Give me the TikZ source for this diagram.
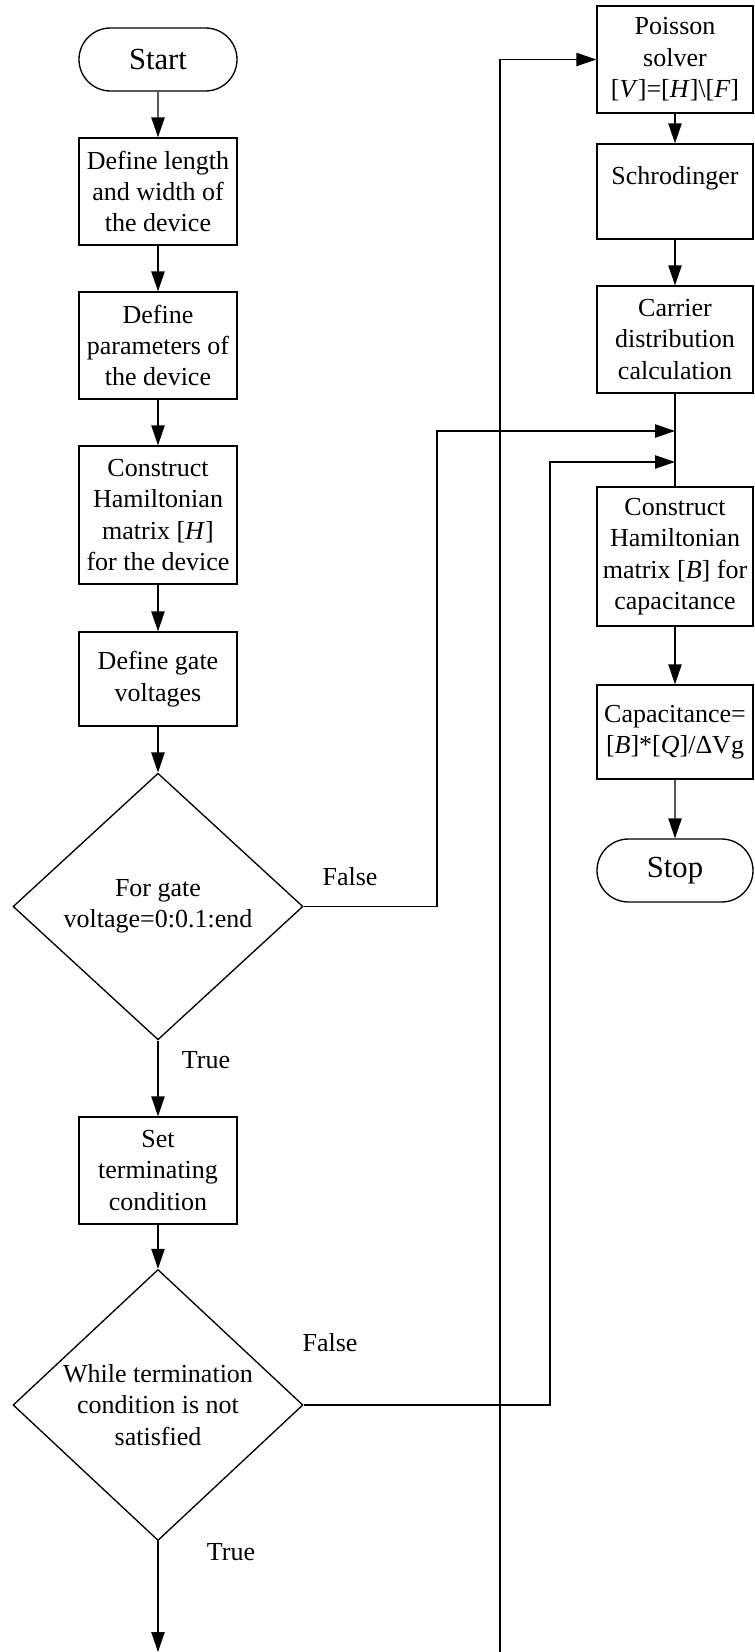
\documentclass[tikz,border=0pt]{standalone}
\usepackage{fontspec}
\setmainfont{Liberation Serif}
\usetikzlibrary{shapes.misc}
\usetikzlibrary{shapes.geometric}
\usetikzlibrary{arrows.meta}

\begin{document}
\begin{tikzpicture}[x=0.75pt,y=-0.75pt,line width=1pt,
  every node/.style={font=\fontsize{19.5}{23.6}\selectfont},
  box/.style={draw,rectangle,line width=1pt,align=center,inner sep=0pt,minimum width=118.5pt},
  rbox/.style={box,minimum width=117pt},
  term/.style={draw,rounded rectangle,line width=1pt,inner sep=0pt,minimum height=47.25pt,font=\fontsize{23}{27}\selectfont},
  decision/.style={draw,diamond,line width=1pt,align=center,inner sep=0pt,minimum width=217.5pt,minimum height=200pt},
  arr/.style={-{Triangle[length=15pt,width=10pt]}},
  lbl/.style={inner sep=0pt}]
\useasboundingbox (0,0) rectangle (754,1652);

% left column
\node[term,minimum width=118.5pt] (start) at (158,59.5) {Start};
\node[box,minimum height=80.25pt] (dim) at (158,191.5) {Define length\\and width of\\the device};
\node[box,minimum height=80.25pt] (par) at (158,345.5) {Define\\parameters of\\the device};
\node[box,minimum height=103.5pt] (ham) at (158,515) {Construct\\Hamiltonian\\matrix [\textit{H}]\\for the device};
\node[box,minimum height=70.5pt] (gate) at (158,679) {Define gate\\voltages};
\node[decision] (forv) at (158,906.5) {For gate\\voltage=0:0.1:end};
\node[box,minimum height=80.25pt] (setc) at (158,1170.5) {Set\\terminating\\condition};
\node[decision] (whl) at (158,1405) {While termination\\condition is not\\satisfied};
\coordinate (endw) at (158,1652);

% right column
\node[rbox,minimum height=80.25pt] (pois) at (675,59.5) {Poisson\\solver\\{}[\textit{V}]=[\textit{H}]\textbackslash[\textit{F}]};
\node[rbox,minimum height=71.25pt] (schr) at (675,191.5) {Schrodinger\\~};
\node[rbox,minimum height=80.25pt] (carr) at (675,339.5) {Carrier\\distribution\\calculation};
\node[rbox,minimum height=104.25pt] (hamb) at (675,556.5) {Construct\\Hamiltonian\\matrix [\textit{B}] for\\capacitance};
\node[rbox,minimum height=70.5pt] (cap) at (675,732) {Capacitance=\\{}[\textit{B}]*[\textit{Q}]/ΔVg};
\node[term,minimum width=117pt] (stop) at (675,870.5) {Stop};
\coordinate (j1) at (675,431);
\coordinate (j2) at (675,462);
\coordinate (loop) at (500,1652);

% main flow
\draw[arr] (start) -- (dim);
\draw[arr] (dim) -- (par);
\draw[arr] (par) -- (ham);
\draw[arr] (ham) -- (gate);
\draw[arr] (gate) -- (forv);
\draw[arr] (forv) -- (setc);
\draw[arr] (setc) -- (whl);
\draw[arr] (whl) -- (endw);

\draw[arr] (pois) -- (schr);
\draw[arr] (schr) -- (carr);
\draw (carr) -- (hamb);
\draw[arr] (hamb) -- (cap);
\draw[arr] (cap) -- (stop);

% branches
\draw[arr] (forv.east) -- (437,906.5) |- (j1);
\draw[arr] (whl.east) -- (550,1405) |- (j2);
\draw[arr] (loop) |- (pois.west);

\node[lbl] (f1) at (350,877) {False};
\node[lbl] (t1) at (206,1060) {True};
\node[lbl] (f2) at (330,1343) {False};
\node[lbl] (t2) at (231,1552) {True};

\end{tikzpicture}
\end{document}
